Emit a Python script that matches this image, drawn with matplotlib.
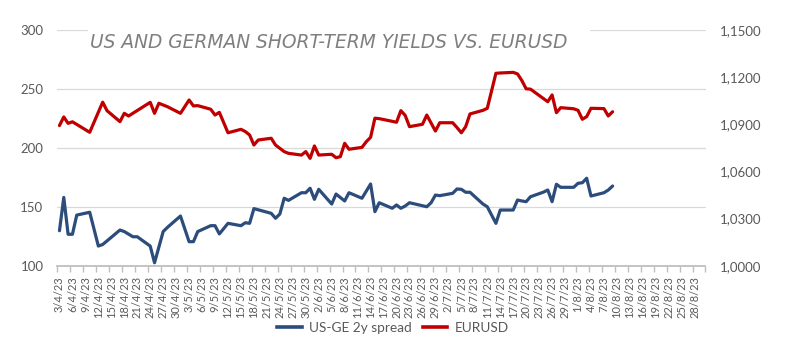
import matplotlib
matplotlib.use("Agg")
import matplotlib.pyplot as plt
import matplotlib.dates as mdates
from matplotlib.patches import Rectangle
from matplotlib.lines import Line2D
import numpy as np
import pandas as pd
from datetime import datetime, timedelta

# ---------------- data ----------------
spread_dates = ["3/4", "4/4", "5/4", "6/4", "7/4", "10/4", "12/4", "13/4", "17/4", "18/4",
                "20/4", "21/4", "24/4", "25/4", "27/4", "28/4", "1/5", "3/5", "4/5", "5/5",
                "8/5", "9/5", "10/5", "12/5", "15/5", "16/5", "17/5", "18/5", "19/5", "22/5",
                "23/5", "24/5", "25/5", "26/5", "29/5", "30/5", "31/5", "1/6", "2/6", "5/6",
                "6/6", "8/6", "9/6", "12/6", "14/6", "15/6", "16/6", "19/6", "20/6", "21/6",
                "22/6", "23/6", "27/6", "28/6", "29/6", "30/6", "3/7", "4/7", "5/7", "6/7",
                "7/7", "10/7", "11/7", "13/7", "14/7", "17/7", "18/7", "19/7", "20/7", "21/7",
                "24/7", "25/7", "26/7", "27/7", "28/7", "31/7", "1/8", "2/8", "3/8", "4/8",
                "7/8", "8/8", "9/8"]
spread_vals = [129.7, 158.0, 126.7, 126.7, 143.0, 145.4, 116.7, 118.0, 130.3, 129.0,
               124.6, 124.6, 116.7, 102.5, 129.0, 132.6, 142.2, 120.4, 120.4, 129.0,
               134.0, 134.0, 127.0, 136.0, 134.0, 136.5, 136.0, 148.5, 147.5, 144.5,
               140.3, 143.9, 157.3, 155.5, 162.0, 162.0, 165.8, 156.4, 164.9, 152.4,
               160.9, 155.0, 162.0, 157.3, 169.4, 145.9, 153.5, 148.8, 151.6, 148.8,
               150.7, 153.5, 150.1, 153.5, 160.0, 159.5, 161.5, 165.2, 164.9, 162.4,
               162.4, 152.4, 150.1, 136.0, 147.3, 147.3, 155.8, 155.0, 154.4, 158.6,
               162.5, 164.3, 154.4, 169.2, 166.6, 166.6, 170.0, 170.5, 174.3, 159.2,
               162.0, 164.3, 167.7]

eurusd_dates = ["3/4", "4/4", "5/4", "6/4", "10/4", "13/4", "14/4", "17/4", "18/4", "19/4",
                "24/4", "25/4", "26/4", "27/4", "28/4", "1/5", "3/5", "4/5", "5/5", "8/5",
                "9/5", "10/5", "12/5", "15/5", "16/5", "17/5", "18/5", "19/5", "22/5", "23/5",
                "25/5", "26/5", "29/5", "30/5", "31/5", "1/6", "2/6", "5/6", "6/6", "7/6",
                "8/6", "9/6", "12/6", "13/6", "14/6", "15/6", "16/6", "19/6", "20/6", "21/6",
                "22/6", "23/6", "26/6", "27/6", "29/6", "30/6", "3/7", "4/7", "5/7", "6/7",
                "7/7", "10/7", "11/7", "13/7", "14/7", "17/7", "18/7", "19/7", "20/7", "21/7",
                "25/7", "26/7", "27/7", "28/7", "31/7", "1/8", "2/8", "3/8", "4/8", "7/8",
                "8/8", "9/8"]
eurusd_vals = [1.0893, 1.0948, 1.0907, 1.0917, 1.0850, 1.1042, 1.0988, 1.0918, 1.0971, 1.0954,
               1.1041, 1.0971, 1.1035, 1.1024, 1.1013, 1.0971, 1.1056, 1.1018, 1.1020, 1.0997,
               1.0960, 1.0977, 1.0847, 1.0869, 1.0855, 1.0833, 1.0769, 1.0801, 1.0812, 1.0769,
               1.0727, 1.0716, 1.0705, 1.0727, 1.0684, 1.0763, 1.0705, 1.0710, 1.0688, 1.0695,
               1.0780, 1.0742, 1.0754, 1.0790, 1.0818, 1.0940, 1.0937, 1.0920, 1.0914, 1.0988,
               1.0958, 1.0886, 1.0901, 1.0960, 1.0858, 1.0911, 1.0911, 1.0880, 1.0847, 1.0886,
               1.0967, 1.0990, 1.1003, 1.1226, 1.1228, 1.1232, 1.1222, 1.1180, 1.1127, 1.1125,
               1.1045, 1.1088, 1.0975, 1.1007, 1.1000, 1.0990, 1.0933, 1.0950, 1.1003, 1.1001,
               1.0954, 1.0981]

series_labels = ["US-GE 2y spread", "EURUSD"]
title_text = "US AND GERMAN SHORT-TERM YIELDS VS. EURUSD"
axis_start = "3/4"
axis_end = "30/8"
left_ticks = [100, 150, 200, 250, 300]
right_ticks = [1.0000, 1.0300, 1.0600, 1.0900, 1.1200, 1.1500]

# ---------------- helpers ----------------
def to_dt(s):
    d, m = s.split("/")
    return datetime(2023, int(m), int(d))

x_spread = [to_dt(s) for s in spread_dates]
x_eur = [to_dt(s) for s in eurusd_dates]
start = to_dt(axis_start)
end = to_dt(axis_end)

BLUE = "#2C4C7C"
RED = "#C00000"
GRID = "#D9D9D9"
AXC = "#BFBFBF"
TXT = "#595959"

W, H = 790, 363
fig = plt.figure(figsize=(W / 100, H / 100), dpi=100)
fig.patch.set_facecolor("white")

l, r, t, b = 57.3, 705.5, 30.3, 265.7
ax = fig.add_axes([l / W, 1 - b / H, (r - l) / W, (b - t) / H])
ax2 = ax.twinx()

# lines
ax.plot(x_spread, spread_vals, color=BLUE, lw=2.3, solid_joinstyle="round",
        solid_capstyle="round", zorder=3)
ax2.plot(x_eur, eurusd_vals, color=RED, lw=2.3, solid_joinstyle="round",
         solid_capstyle="round", zorder=3)

# x axis
half = timedelta(hours=12)
ax.set_xlim(mdates.date2num(start - half), mdates.date2num(end + half))
major = []
d = start
while d <= end - timedelta(days=1):
    major.append(d)
    d += timedelta(days=3)
minor = []
d = start - half
while d <= end + half:
    minor.append(d)
    d += timedelta(days=3)
ax.set_xticks([mdates.date2num(x) for x in major])
ax.set_xticklabels([f"{x.day}/{x.month}/{x.strftime('%y')}" for x in major],
                   rotation=90, fontsize=8.0, color=TXT, family="Lato")
ax.set_xticks([mdates.date2num(x) for x in minor], minor=True)
ax.tick_params(axis="x", which="major", length=0, pad=7.5)
ax.tick_params(axis="x", which="minor", length=4, width=1, color=AXC)

# left y
ax.set_ylim(100, 300)
ax.set_yticks(left_ticks)
ax.set_yticklabels([str(v) for v in left_ticks], fontsize=9.5, color=TXT, family="Lato")
ax.tick_params(axis="y", length=0, pad=10)
ax.grid(axis="y", color=GRID, lw=0.9, zorder=0)
ax.set_axisbelow(True)

# right y
ax2.set_ylim(1.0, 1.15)
ax2.set_yticks(right_ticks)
ax2.set_yticklabels([f"{v:.4f}".replace(".", ",") for v in right_ticks],
                    fontsize=9.5, color=TXT, family="Lato")
ax2.tick_params(axis="y", length=0, pad=10)

for a in (ax, ax2):
    for s in ("top", "left", "right", "bottom"):
        a.spines[s].set_visible(False)
ax.spines["bottom"].set_visible(True)
ax.spines["bottom"].set_color(AXC)
ax.spines["bottom"].set_linewidth(1.3)

# title with white backing over the top gridline
fig.patches.append(Rectangle((88 / W, 1 - 58 / H), (590 - 88) / W, 34 / H,
                             transform=fig.transFigure, facecolor="white",
                             edgecolor="none", zorder=5))
fig.text(90 / W, 1 - 42 / H, title_text, fontsize=13.4, color="#7F7F7F",
         family="DejaVu Sans", style="oblique", ha="left", va="center", zorder=6)

# legend
handles = [Line2D([], [], color=BLUE, lw=2.6), Line2D([], [], color=RED, lw=2.6)]
leg = fig.legend(handles, series_labels, loc="center",
                 bbox_to_anchor=(393 / W, 1 - 328 / H), ncol=2, frameon=False,
                 prop={"family": "Lato", "size": 9.8}, handlelength=1.8,
                 handletextpad=0.55, columnspacing=0.8)
for txt in leg.get_texts():
    txt.set_color(TXT)

fig.savefig("out.png", dpi=100, facecolor="white")
